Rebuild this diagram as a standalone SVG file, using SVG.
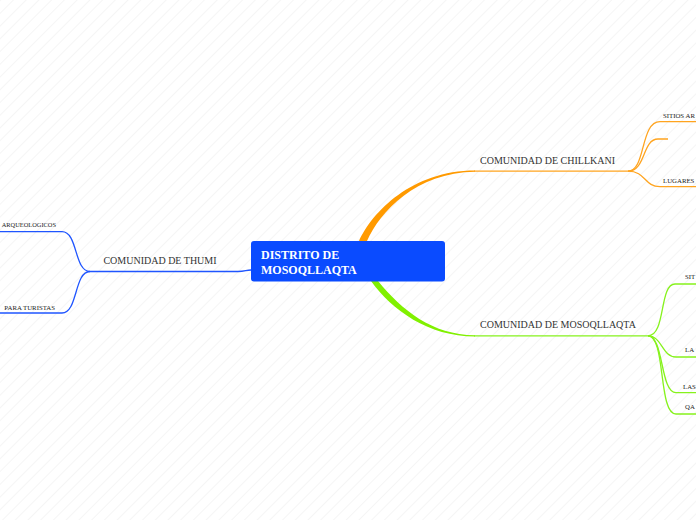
<svg xmlns="http://www.w3.org/2000/svg" width="696" height="520" viewBox="0 0 696 520">
<defs>
<pattern id="bg" width="9" height="9" patternUnits="userSpaceOnUse" patternTransform="rotate(45)">
<line x1="0" y1="0" x2="0" y2="9" stroke="#ececec" stroke-width="1"/>
</pattern>
</defs>
<style>
.lbl{font-family:"Liberation Serif","Times New Roman",serif;font-size:10px;fill:#333333}
.sm{font-family:"Liberation Serif","Times New Roman",serif;font-size:6.8px;fill:#222222}
.ctr{font-family:"Liberation Serif","Times New Roman",serif;font-size:12px;font-weight:bold;fill:#ffffff}
.b{fill:none;stroke:#1f55ff;stroke-width:1.3}
.o{fill:none;stroke:#ffa41f;stroke-width:1.3}
.g{fill:none;stroke:#86f21c;stroke-width:1.3}
</style>
<rect width="696" height="520" fill="#ffffff"/>
<rect width="696" height="520" fill="url(#bg)"/>
<g id="connectors">
<path d="M359,241 C372,212 412,170.4 475,170.4 L475,171.8 C416,172.5 380,212 367,241 Z" fill="#ff9a00"/>
<path d="M371,281 C392,310 428,336.5 475,336.5 L475,335.2 C432,335 402,310 378,281 Z" fill="#80f000"/>
<path class="b" d="M90,271.5 H238 C245,271.5 246,270 251,270"/>
<path class="b" d="M90,271.5 C74,271.5 78,231.7 62,231.7 H0"/>
<path class="b" d="M90,271.5 C74,271.5 78,313 62,313 H0"/>
<path class="o" d="M474,171.2 H628"/>
<path class="o" d="M628,171.2 C646,171.2 640,121.7 660,121.7 H696"/>
<path class="o" d="M628,171.2 C646,171.2 642,139 658,139 H668"/>
<path class="o" d="M628,171.2 C646,171.2 644,186.7 660,186.7 H696"/>
<path class="g" d="M474,335.8 H648"/>
<path class="g" d="M648,335.8 C666,335.8 659,284 675,284 H696"/>
<path class="g" d="M648,335.8 C662,335.8 662,357 676,357 H696"/>
<path class="g" d="M648,335.8 C664,335.8 660,392.7 676,392.7 H696"/>
<path class="g" d="M648,335.8 C666,335.8 658,414 676,414 H696"/>
</g>
<g id="central">
<rect x="251" y="241" width="194" height="40.5" rx="3" fill="#0a4bff"/>
<text class="ctr" x="261" y="259">DISTRITO DE</text>
<text class="ctr" x="261" y="274">MOSOQLLAQTA</text>
</g>
<g id="thumi">
<text class="lbl" x="160" y="264" text-anchor="middle">COMUNIDAD DE THUMI</text>
</g>
<g id="thumi-1">
<text class="sm" x="56" y="226.5" text-anchor="end" style="font-size:6.4px">ARQUEOLOGICOS</text>
</g>
<g id="thumi-2">
<text class="sm" x="55" y="309.5" text-anchor="end">PARA TURISTAS</text>
</g>
<g id="chillkani">
<text class="lbl" x="480" y="164">COMUNIDAD DE CHILLKANI</text>
</g>
<g id="chillkani-1">
<text class="sm" x="663" y="117.5">SITIOS AR</text>
</g>
<g id="chillkani-2">
<text class="sm" x="663" y="182.5">LUGARES</text>
</g>
<g id="mosoqllaqta">
<text class="lbl" x="480" y="328">COMUNIDAD DE MOSOQLLAQTA</text>
</g>
<g id="mosoqllaqta-1">
<text class="sm" x="685" y="279">SIT</text>
</g>
<g id="mosoqllaqta-2">
<text class="sm" x="685" y="351.5">LA</text>
</g>
<g id="mosoqllaqta-3">
<text class="sm" x="683" y="388.5">LAS</text>
</g>
<g id="mosoqllaqta-4">
<text class="sm" x="685" y="409">QA</text>
</g>
</svg>
